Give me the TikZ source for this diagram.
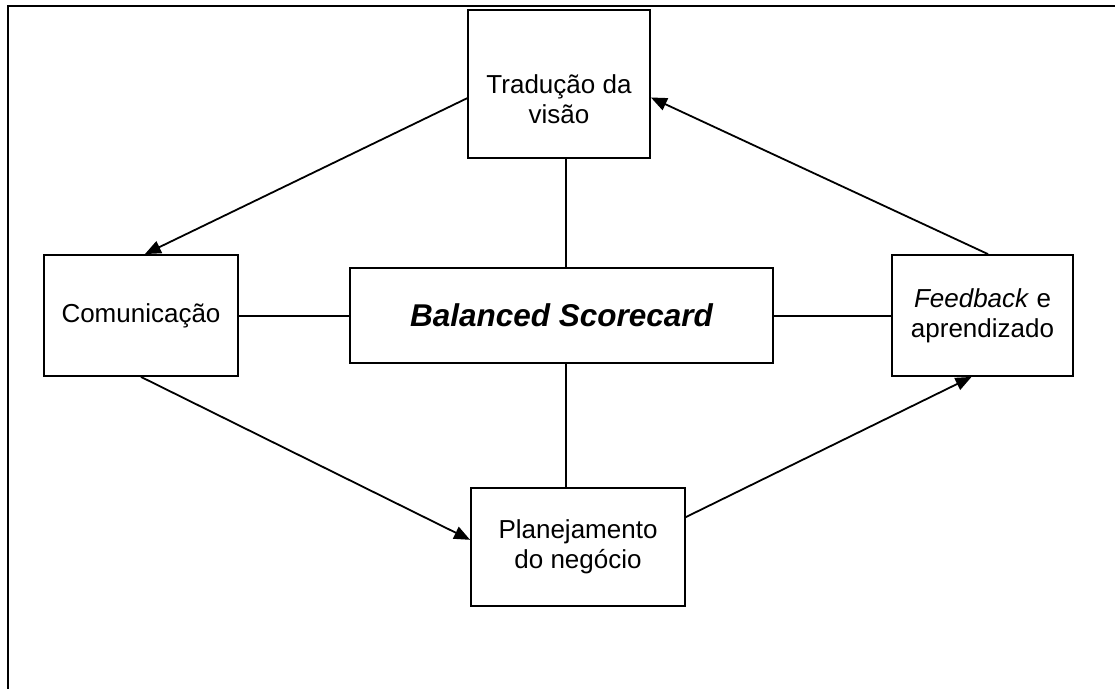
\documentclass[tikz,border=0pt]{standalone}
\usepackage{fontspec}
\setmainfont{Liberation Sans}
\usetikzlibrary{arrows.meta,calc}

\tikzset{
  box/.style={draw, line width=1.8pt, rectangle, align=center, inner sep=0pt,
              font=\fontsize{26}{30}\selectfont},
  link/.style={line width=2pt},
  flow/.style={line width=1.8pt, -{Triangle[length=16pt,width=13pt]}},
  frame/.style={line width=2pt}
}

\begin{document}
\begin{tikzpicture}[x=1pt,y=-1pt]
  \useasboundingbox (0,0) rectangle (1115,689);

  % page frame (top and left edges)
  \draw[frame] (1115,6) -- (8,6) -- (8,689);

  % boxes
  \node[box, minimum width=182pt, minimum height=148pt,
        text height=82pt, text depth=4pt] (trad) at (559,84) {Tradução da\\visão};
  \node[box, minimum width=194pt, minimum height=121pt] (comu) at (141,315.5) {Comunicação};
  \node[box, minimum width=423pt, minimum height=95pt,
        font=\fontsize{31.5}{35}\selectfont\bfseries\itshape] (bsc) at (561.5,315.5)
        {Balanced Scorecard};
  \node[box, minimum width=181pt, minimum height=121pt] (feed) at (982.5,315.5)
        {\textit{Feedback} e\\aprendizado};
  \node[box, minimum width=214pt, minimum height=118pt] (plan) at (578,547)
        {Planejamento\\do negócio};

  % links to the central box
  \coordinate (axis) at (566,0);
  \coordinate (row) at (0,316);
  \draw[link] (trad.south -| axis) -- (bsc.north -| axis);
  \draw[link] (bsc.south -| axis) -- (plan.north -| axis);
  \draw[link] (comu.east |- row) -- (bsc.west |- row);
  \draw[link] (bsc.east |- row) -- (feed.west |- row);

  % cycle of arrows
  \draw[flow] ($(trad.north west)!0.595!(trad.south west)$)
           -- ($(comu.north west)!0.52!(comu.north east)$);
  \draw[flow] (comu.south)
           -- ($(plan.north west)!0.44!(plan.south west)$);
  \draw[flow] ($(plan.north east)!0.25!(plan.south east)$)
           -- ($(feed.south west)!0.44!(feed.south east)$);
  \draw[flow] ($(feed.north west)!0.53!(feed.north east)$)
           -- ($(trad.north east)!0.59!(trad.south east)$);
\end{tikzpicture}
\end{document}
